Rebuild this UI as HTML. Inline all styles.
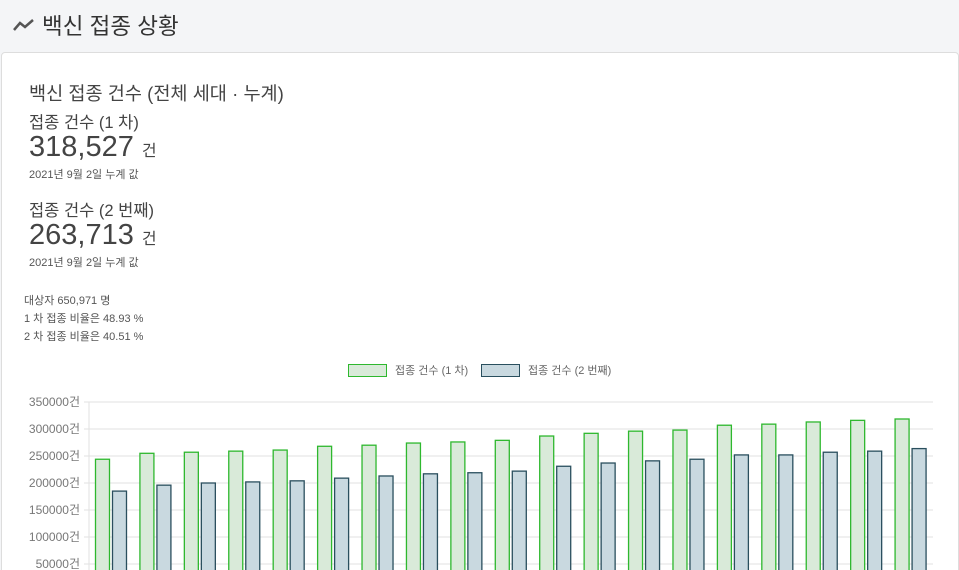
<!DOCTYPE html>
<html><head><meta charset="utf-8"><style>
html,body{margin:0;width:959px;height:570px;overflow:hidden}
body{background:#f4f5f7;font-family:"Liberation Sans","Noto Sans CJK KR",sans-serif;color:#444;position:relative}
.hdr{position:absolute;left:12px;top:9px;font-size:22.5px;color:#333;display:flex;align-items:center;gap:6px}
.card{position:absolute;left:1px;top:52px;width:956px;height:530px;background:#fff;border:1px solid #ddd;border-radius:4px}
.t{position:absolute;white-space:nowrap}
</style></head><body>
<div class="hdr"><svg width="24" height="16"><polyline points="2,13 8,6 13,10 21,3" fill="none" stroke="#555" stroke-width="2.5"/></svg><span>백신 접종 상황</span></div>
<div class="card">
<div class="t" style="left:27px;top:26px;font-size:18.6px;color:#444">백신 접종 건수 (전체 세대 · 누계)</div>
<div class="t" style="left:27px;top:56px;font-size:16.5px">접종 건수 (1 차)</div>
<div class="t" style="left:27px;top:78px;font-size:29px">318,527 <span style="font-size:16px">건</span></div>
<div class="t" style="left:27px;top:113px;font-size:11px;color:#555">2021년 9월 2일 누계 값</div>
<div class="t" style="left:27px;top:144px;font-size:16.5px">접종 건수 (2 번째)</div>
<div class="t" style="left:27px;top:166px;font-size:29px">263,713 <span style="font-size:16px">건</span></div>
<div class="t" style="left:27px;top:201px;font-size:11px;color:#555">2021년 9월 2일 누계 값</div>
<div class="t" style="left:22px;top:239px;font-size:11px;color:#555;line-height:18px">대상자 650,971 명<br>1 차 접종 비율은 48.93 %<br>2 차 접종 비율은 40.51 %</div>
</div>
<svg id="ch" width="959" height="570" style="position:absolute;left:0;top:0"></svg>
<script>
const categories=Array.from({length:19},(_, i)=>'d'+(i+1));
const dose1=[244000,255000,257000,259000,261000,268000,270000,274000,276000,279000,287000,292000,296000,298000,307000,309000,313000,316000,318527];
const dose2=[185000,196000,200000,202000,204000,209000,213000,217000,219000,222000,231000,237000,241000,244000,252000,252000,257000,259000,263713];
const ticks=[50000,100000,150000,200000,250000,300000,350000];
const NS='http://www.w3.org/2000/svg',svg=document.getElementById('ch');
const x0=89,x1=933,yB=591,pxPer=27/50000;
const y=v=>yB-v*pxPer;
const gw=(x1-x0)/categories.length;
function mk(t,a){const e=document.createElementNS(NS,t);for(const k in a)e.setAttribute(k,a[k]);svg.appendChild(e);return e;}
ticks.forEach(t=>{
 const l=mk('line',{x1:x0-5,x2:x1,y1:y(t),y2:y(t),stroke:'#e2e2e2'});
 
 
 const tx=mk('text',{x:x0-9,y:y(t)+4,'text-anchor':'end','font-size':12,fill:'#777','font-family':'Liberation Sans, Noto Sans CJK KR, sans-serif'});
 tx.textContent=t+'건';
 
 
});
const ax=mk('line',{x1:x0,x2:x0,y1:y(350000),y2:570,stroke:'#e2e2e2'});


categories.forEach((c,i)=>{
 const gx=x0+i*gw;
 const b1=mk('rect',{x:gx+6.5,y:y(dose1[i]),width:14,height:yB-y(dose1[i]),fill:'#d9ead9',stroke:'#2eb82e','stroke-width':1.3});
 
 
 const b2=mk('rect',{x:gx+23.5,y:y(dose2[i]),width:14,height:yB-y(dose2[i]),fill:'#c9d9e0',stroke:'#2a4f5e','stroke-width':1.3});
 
 
});
const f='Liberation Sans, Noto Sans CJK KR, sans-serif';
const l1=mk('rect',{x:348.5,y:364.5,width:38,height:12,fill:'#d9ead9',stroke:'#2eb82e'});


const t1=mk('text',{x:395,y:374,'font-size':11,fill:'#666','font-family':f});t1.textContent='접종 건수 (1 차)';


const l2=mk('rect',{x:481.5,y:364.5,width:38,height:12,fill:'#c9d9e0',stroke:'#2a4f5e'});


const t2=mk('text',{x:528,y:374,'font-size':11,fill:'#666','font-family':f});t2.textContent='접종 건수 (2 번째)';


</script>
</body></html>
